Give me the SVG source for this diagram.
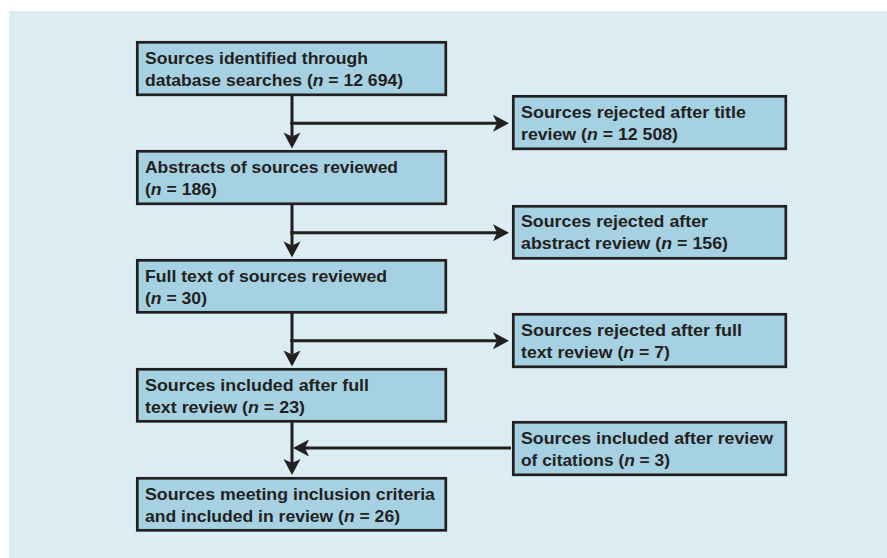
<svg xmlns="http://www.w3.org/2000/svg" width="887" height="558" viewBox="0 0 887 558">
<style>
.box{fill:#a5d1e2;stroke:#231f20;stroke-width:2.7}
.t{font-family:"Liberation Sans",Arial,sans-serif;font-weight:bold;font-size:17px;fill:#231f20}
.i{font-style:italic}
.c{fill:none;stroke:#231f20;stroke-width:3;marker-end:url(#ah)}
.l{fill:none;stroke:#231f20;stroke-width:3}
</style>
<defs>
<marker id="ah" markerUnits="userSpaceOnUse" viewBox="-17 -10 18 20" markerWidth="18" markerHeight="20" refX="-12" refY="0" orient="auto">
<path d="M0,0 L-16,-8.5 L-12,0 L-16,8.5 Z" fill="#231f20"/>
</marker>
</defs>
<rect x="0" y="0" width="887" height="558" fill="#ffffff"/>
<rect x="9" y="11" width="878" height="547" fill="#dbecf3"/>

<g id="connectors">
<path class="l" d="M292,96 V124"/>
<path class="c" d="M292,122 V136.5"/>
<path class="c" d="M290.5,123.3 H497"/>
<path class="l" d="M292,205 V233"/>
<path class="c" d="M292,231 V245.5"/>
<path class="c" d="M290.5,232.7 H497"/>
<path class="l" d="M292,313 V341"/>
<path class="c" d="M292,339 V354.5"/>
<path class="c" d="M290.5,340.7 H497"/>
<path class="c" d="M292,422 V463"/>
<path class="c" d="M511,448 H305"/>
</g>

<g id="n1">
<rect class="box" x="137.3" y="42.3" width="308.5" height="52.5"/>
<text class="t" x="145" y="63.5" textLength="223" lengthAdjust="spacingAndGlyphs">Sources identified through</text>
<text class="t" x="145" y="85.5" textLength="258" lengthAdjust="spacingAndGlyphs">database searches (<tspan class="i">n</tspan> = 12 694)</text>
</g>
<g id="n2">
<rect class="box" x="137.3" y="151.3" width="308.5" height="52.5"/>
<text class="t" x="145" y="172.5" textLength="253" lengthAdjust="spacingAndGlyphs">Abstracts of sources reviewed</text>
<text class="t" x="145" y="194.5" textLength="72" lengthAdjust="spacingAndGlyphs">(<tspan class="i">n</tspan> = 186)</text>
</g>
<g id="n3">
<rect class="box" x="137.3" y="260.3" width="308.5" height="52"/>
<text class="t" x="145" y="281.5" textLength="242" lengthAdjust="spacingAndGlyphs">Full text of sources reviewed</text>
<text class="t" x="145" y="303.5" textLength="62" lengthAdjust="spacingAndGlyphs">(<tspan class="i">n</tspan> = 30)</text>
</g>
<g id="n4">
<rect class="box" x="137.3" y="369.3" width="308.5" height="52"/>
<text class="t" x="145" y="390.5" textLength="224" lengthAdjust="spacingAndGlyphs">Sources included after full</text>
<text class="t" x="145" y="412.5" textLength="160" lengthAdjust="spacingAndGlyphs">text review (<tspan class="i">n</tspan> = 23)</text>
</g>
<g id="n5">
<rect class="box" x="137.3" y="478.3" width="308.5" height="52"/>
<text class="t" x="145" y="499.5" textLength="290" lengthAdjust="spacingAndGlyphs">Sources meeting inclusion criteria</text>
<text class="t" x="145" y="521.5" textLength="255" lengthAdjust="spacingAndGlyphs">and included in review (<tspan class="i">n</tspan> = 26)</text>
</g>

<g id="r1">
<rect class="box" x="513.3" y="96.3" width="272.5" height="52.5"/>
<text class="t" x="521" y="117.5" textLength="225" lengthAdjust="spacingAndGlyphs">Sources rejected after title</text>
<text class="t" x="521" y="139.5" textLength="157" lengthAdjust="spacingAndGlyphs">review (<tspan class="i">n</tspan> = 12 508)</text>
</g>
<g id="r2">
<rect class="box" x="513.3" y="206.3" width="272.5" height="52"/>
<text class="t" x="521" y="227" textLength="187" lengthAdjust="spacingAndGlyphs">Sources rejected after</text>
<text class="t" x="521" y="249" textLength="207" lengthAdjust="spacingAndGlyphs">abstract review (<tspan class="i">n</tspan> = 156)</text>
</g>
<g id="r3">
<rect class="box" x="513.3" y="314.3" width="272.5" height="52.5"/>
<text class="t" x="521" y="335.5" textLength="221" lengthAdjust="spacingAndGlyphs">Sources rejected after full</text>
<text class="t" x="521" y="357.5" textLength="149" lengthAdjust="spacingAndGlyphs">text review (<tspan class="i">n</tspan> = 7)</text>
</g>
<g id="r4">
<rect class="box" x="513.3" y="422.3" width="272.5" height="52.5"/>
<text class="t" x="521" y="443.5" textLength="252" lengthAdjust="spacingAndGlyphs">Sources included after review</text>
<text class="t" x="521" y="465.5" textLength="149" lengthAdjust="spacingAndGlyphs">of citations (<tspan class="i">n</tspan> = 3)</text>
</g>
</svg>
